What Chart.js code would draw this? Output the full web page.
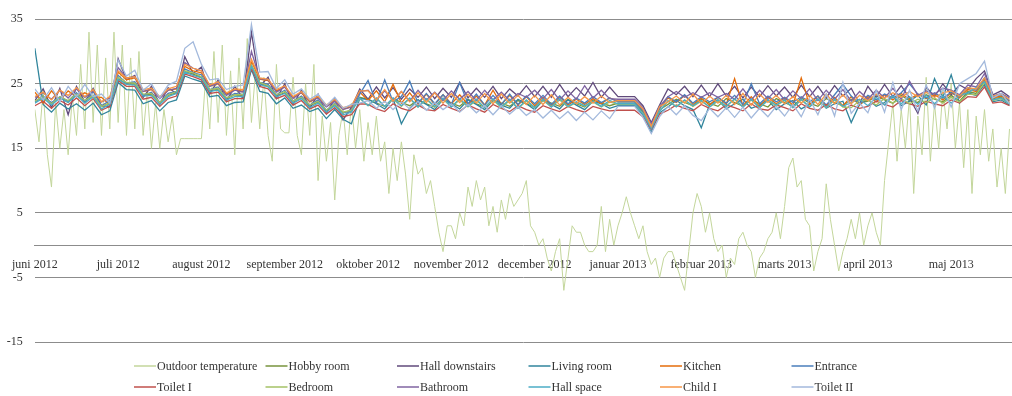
<!DOCTYPE html>
<html>
<head>
<meta charset="utf-8">
<script src="https://cdn.jsdelivr.net/npm/chart.js@4.4.1/dist/chart.umd.min.js"></script>
<style>
	html, body { margin: 0; padding: 0; background: #fff; }
	#wrap { width: 1012px; height: 396px; position: relative; }
</style>
</head>
<body>
<div id="wrap"><canvas id="chart"></canvas></div>
<script>
// --- Axis labels ---
const monthLabels = ["juni 2012", "juli 2012", "august 2012", "september 2012", "oktober 2012", "november 2012",
	"december 2012", "januar 2013", "februar 2013", "marts 2013", "april 2013", "maj 2013"];
const yTicks = [-15, -5, 5, 15, 25, 35];

// x positions are in "months since start"; outdoor is sampled every 0.05 month, rooms every 0.1 month
const OUTDOOR_STEP = 0.05;
const ROOM_STEP = 0.1;

const seriesNames = ["Outdoor temperature", "Hobby room", "Hall downstairs", "Living room", "Kitchen", "Entrance",
	"Toilet I", "Bedroom", "Bathroom", "Hall space", "Child I", "Toilet II"];
const seriesColors = ["#c3d69b", "#77933c", "#604a7b", "#31859c", "#e46c0a", "#4a7ebb",
	"#c0504d", "#a4c266", "#8064a2", "#4bacc6", "#f79646", "#a3b9dc"];

// --- Series values (°C) ---
const outdoorTemp = [
	21, 16, 24, 14, 9, 22, 15, 21, 14, 23, 17, 28, 18, 33, 19, 31, 17, 29, 18, 33,
	19, 31, 17, 29, 18, 30, 17, 24, 15, 22, 15, 21, 16, 20, 14, 16.5, 16.5, 16.5, 16.5, 16.5,
	16.5, 26, 18, 30, 19, 31, 17, 27, 14, 29, 18, 32, 19, 27, 18, 26, 17, 13, 28, 18,
	17.4, 17.4, 26, 17, 14, 25, 17, 28, 10, 20, 13, 19, 7, 17, 21, 14, 22, 15, 21, 13,
	19, 14, 20, 13, 16, 8, 15, 10, 16, 11, 4, 14, 11, 12, 8, 10, 6, 2, -1, 3,
	3, 1, 5, 3, 9, 6, 10, 7, 9, 3, 6, 2, 7, 4, 8, 6, 7, 8, 10, 3,
	2, 0, 1, -2, -4, -1, 1, -7, -2, 3, 2, 2, 0, -1, -1, 0, 6, -1, 4, 0,
	3, 5, 7.5, 5, 3, 1, 3, -1, -3, -2, -5, -2, -1, -1, -3, -5, -7, -1, 5, 8,
	6, 2, 5, 1, -1, 0, -5, -2, -3, 1, 2, 0, -1, -5, -2, -1, 1, 2, 5, 1,
	6, 12, 13.5, 9, 10, 4, 3, -4, -1, 1, 9.5, 4, 0, -4, -1, 1, 4, 1, 5, 0,
	3, 5, 2, 0, 10, 16, 22, 13, 21, 15, 23, 8, 20, 14, 26, 13, 22, 15, 24, 18,
	25, 15, 22, 12, 21, 8, 20, 14, 21, 13, 18, 9, 15, 8, 18
];
const hobbyRoom = [
	22.2, 23.1, 21.9, 22.9, 22.1, 23.4, 22.3, 23.2, 21.5, 22.0,
	25.8, 24.9, 25.0, 23.2, 23.4, 22.0, 23.2, 23.6, 26.9, 26.5,
	26.0, 24.0, 24.1, 22.7, 23.3, 23.1, 27.6, 25.1, 24.6, 23.1,
	23.6, 22.3, 22.8, 21.6, 22.2, 20.8, 21.8, 20.5, 20.9, 22.9,
	22.6, 22.0, 21.5, 22.7, 22.1, 21.6, 22.5, 21.9, 21.4, 22.6,
	22.0, 21.5, 22.6, 21.9, 21.4, 22.5, 22.0, 21.5, 22.4, 21.9,
	21.4, 22.5, 22.0, 21.5, 22.6, 21.9, 21.4, 22.5, 22.0, 21.6,
	22.0, 22.0, 22.0, 20.6, 18.4, 21.0, 21.8, 22.6, 22.1, 21.6,
	22.6, 22.0, 21.5, 22.7, 22.1, 21.5, 22.6, 21.9, 21.4, 22.7,
	22.1, 21.5, 22.8, 22.0, 21.5, 22.7, 22.1, 21.6, 22.6, 22.0,
	22.3, 23.1, 22.5, 22.0, 23.2, 22.4, 22.1, 23.3, 22.6, 22.2,
	23.2, 22.3, 23.8, 23.5, 25.4, 22.7, 22.9, 22.1
];
const hallDownstairs = [
	22.4, 24.2, 21.3, 24.3, 20.2, 24.6, 22.2, 24.3, 21.6, 21.4,
	28.9, 25.6, 26.3, 22.9, 24.6, 21.8, 24.4, 23.5, 29.2, 26.6,
	27.6, 23.4, 25.6, 22.3, 24.6, 22.7, 33.0, 24.6, 26.0, 22.7,
	25.0, 21.8, 24.0, 21.2, 23.4, 20.4, 22.7, 19.4, 21.3, 24.2,
	22.6, 24.5, 22.8, 24.4, 22.6, 24.2, 22.9, 24.5, 22.7, 24.3,
	22.9, 25.2, 22.8, 24.3, 22.9, 24.6, 22.7, 24.2, 23.1, 24.7,
	23.0, 24.6, 22.9, 24.9, 23.0, 24.4, 23.1, 25.2, 22.9, 24.5,
	23.0, 23.0, 23.0, 21.6, 19.0, 21.7, 24.2, 23.3, 24.6, 23.0,
	24.8, 23.0, 25.0, 23.1, 24.6, 22.8, 24.5, 23.0, 24.7, 23.1,
	24.5, 22.9, 24.8, 23.0, 24.6, 22.8, 24.7, 23.1, 24.3, 21.9,
	24.6, 22.9, 24.9, 23.0, 24.7, 22.8, 20.4, 24.5, 23.0, 25.0,
	23.3, 24.8, 24.1, 25.8, 27.0, 23.3, 23.9, 23.0
];
const livingRoom = [
	30.5, 21.8, 20.6, 22.0, 21.1, 21.9, 20.9, 22.0, 20.2, 20.8,
	25.2, 24.1, 24.0, 21.9, 22.4, 20.8, 22.1, 22.5, 26.2, 25.7,
	25.3, 23.0, 23.2, 21.6, 22.1, 22.2, 27.2, 23.8, 23.5, 21.9,
	22.8, 21.2, 21.7, 20.7, 21.2, 19.6, 21.0, 19.5, 18.8, 22.7,
	22.6, 21.9, 21.1, 22.7, 18.8, 21.2, 22.5, 21.8, 21.0, 22.6,
	21.9, 21.1, 22.5, 21.8, 21.0, 22.4, 21.7, 21.2, 22.6, 21.9,
	21.0, 22.4, 21.8, 21.1, 22.5, 21.7, 21.0, 22.3, 21.9, 21.2,
	21.6, 21.6, 21.6, 20.2, 17.5, 20.5, 21.4, 22.4, 21.6, 21.0,
	18.2, 21.8, 22.5, 21.1, 21.9, 22.6, 21.2, 21.7, 22.5, 21.0,
	21.9, 22.4, 21.1, 21.8, 22.6, 21.2, 21.9, 22.3, 19.0, 21.8,
	22.6, 21.5, 22.1, 23.1, 21.6, 22.3, 23.2, 21.7, 25.8, 22.9,
	26.4, 22.0, 23.6, 23.2, 24.9, 22.2, 22.5, 21.7
];
const kitchen = [
	23.7, 22.0, 23.9, 22.4, 23.9, 23.0, 23.6, 22.9, 22.9, 21.7,
	26.8, 25.6, 25.9, 23.8, 24.1, 22.8, 24.0, 24.2, 27.7, 27.0,
	26.7, 24.7, 25.0, 23.4, 24.1, 23.8, 28.5, 25.7, 25.5, 23.9,
	24.5, 22.9, 23.6, 22.2, 22.9, 21.5, 22.4, 21.1, 21.4, 23.7,
	22.4, 23.9, 22.2, 24.9, 22.0, 23.6, 21.9, 23.4, 21.8, 23.3,
	21.9, 23.3, 21.8, 23.1, 21.7, 24.0, 21.8, 23.2, 21.7, 23.0,
	21.6, 22.9, 21.5, 23.0, 21.7, 22.6, 21.8, 22.7, 21.9, 22.8,
	22.3, 22.3, 22.3, 21.0, 18.2, 21.3, 22.8, 22.1, 23.2, 21.8,
	22.8, 21.7, 22.9, 21.8, 25.8, 21.6, 23.0, 21.5, 22.9, 21.9,
	22.8, 21.7, 25.9, 21.8, 23.1, 21.5, 22.9, 21.6, 23.0, 21.7,
	23.0, 22.2, 23.3, 22.5, 23.5, 22.6, 23.4, 22.7, 23.3, 22.5,
	23.6, 22.8, 24.1, 23.8, 25.7, 22.8, 23.1, 22.3
];
const entrance = [
	22.2, 23.0, 22.1, 23.0, 22.3, 23.6, 22.1, 23.8, 21.6, 22.4,
	26.3, 25.1, 25.3, 23.2, 23.7, 22.1, 23.5, 23.8, 27.3, 26.7,
	26.4, 24.1, 24.5, 22.8, 23.5, 23.3, 27.9, 25.2, 24.9, 23.3,
	24.0, 22.3, 23.1, 21.7, 22.5, 20.9, 22.0, 20.5, 20.8, 23.4,
	25.5, 22.0, 25.6, 22.2, 23.0, 25.4, 22.0, 23.5, 21.9, 23.3,
	21.8, 25.2, 21.9, 23.4, 21.7, 23.2, 21.8, 23.4, 21.8, 23.1,
	21.9, 23.2, 21.8, 23.1, 21.9, 22.8, 22.0, 23.0, 22.1, 22.8,
	22.2, 22.2, 22.2, 20.8, 18.0, 21.2, 23.0, 22.2, 23.3, 22.0,
	23.0, 22.2, 22.9, 22.0, 23.2, 21.8, 25.0, 21.9, 23.1, 22.2,
	22.9, 22.1, 23.0, 22.2, 23.1, 21.7, 23.3, 24.9, 23.1, 21.9,
	23.2, 22.5, 23.4, 22.8, 23.6, 25.0, 23.4, 22.8, 23.6, 22.8,
	23.7, 23.0, 24.4, 24.0, 25.9, 23.0, 23.3, 22.4
];
const toiletOne = [
	21.6, 22.3, 21.2, 22.4, 21.7, 22.8, 21.6, 22.7, 20.9, 21.5,
	25.5, 24.6, 24.6, 22.6, 22.9, 21.5, 22.7, 23.1, 26.5, 26.1,
	25.6, 23.5, 23.7, 22.2, 22.7, 22.7, 27.4, 24.6, 24.2, 22.7,
	23.2, 21.7, 22.4, 21.1, 21.7, 20.3, 21.3, 19.9, 20.2, 21.9,
	21.8, 21.1, 20.7, 21.9, 21.2, 20.8, 21.7, 21.0, 20.8, 21.8,
	21.2, 20.7, 21.7, 21.1, 20.6, 21.8, 21.2, 20.7, 21.6, 21.0,
	20.6, 21.6, 21.1, 20.7, 21.5, 21.0, 20.6, 21.5, 21.1, 20.8,
	20.9, 20.9, 20.9, 19.9, 18.0, 20.3, 20.9, 21.7, 21.2, 20.8,
	21.8, 21.2, 20.8, 21.7, 21.3, 20.8, 21.9, 21.1, 20.9, 21.7,
	21.3, 20.8, 21.9, 21.2, 20.9, 21.8, 21.1, 20.8, 21.7, 21.2,
	21.5, 22.3, 21.8, 21.4, 22.4, 21.9, 21.5, 22.3, 21.9, 21.6,
	22.5, 22.0, 23.0, 22.9, 24.5, 22.0, 22.2, 21.6
];
const bedroom = [
	22.3, 23.0, 21.9, 23.0, 22.4, 23.4, 22.4, 23.2, 21.5, 22.0,
	26.0, 25.2, 25.1, 23.4, 23.5, 22.1, 23.3, 23.8, 27.0, 26.7,
	26.1, 24.1, 24.3, 22.8, 23.3, 23.3, 27.9, 25.2, 24.7, 23.3,
	23.8, 22.3, 22.9, 21.7, 22.3, 20.9, 21.9, 20.6, 20.9, 22.7,
	21.6, 22.7, 21.5, 22.6, 21.5, 22.7, 21.4, 22.6, 21.4, 22.6,
	21.4, 22.5, 21.4, 22.4, 21.3, 22.5, 21.3, 22.4, 21.2, 22.3,
	21.3, 22.4, 21.4, 22.5, 21.4, 22.1, 21.5, 22.2, 21.4, 22.2,
	21.8, 21.8, 21.8, 20.4, 18.3, 20.8, 22.3, 21.5, 22.4, 21.5,
	22.3, 21.4, 22.3, 21.5, 22.6, 21.4, 22.5, 21.3, 22.4, 21.6,
	22.4, 21.3, 22.5, 21.4, 22.6, 21.3, 22.5, 21.4, 21.3, 22.4,
	22.5, 21.7, 22.7, 22.0, 22.7, 21.9, 22.6, 22.1, 22.8, 22.0,
	22.9, 22.2, 23.4, 23.3, 25.2, 22.4, 22.7, 21.9
];
const bathroom = [
	22.9, 23.6, 22.6, 24.0, 22.8, 24.2, 22.9, 23.9, 22.2, 22.8,
	27.5, 25.9, 26.1, 23.8, 24.2, 22.7, 24.0, 24.3, 28.3, 27.4,
	27.0, 24.6, 25.1, 23.2, 24.0, 23.7, 30.0, 25.8, 25.6, 23.7,
	24.5, 22.7, 23.7, 22.3, 22.8, 21.4, 22.3, 21.0, 21.4, 23.8,
	24.0, 22.5, 23.9, 22.4, 23.8, 22.3, 24.0, 22.5, 23.7, 22.4,
	23.9, 22.6, 23.8, 22.4, 24.0, 22.5, 23.7, 22.4, 23.5, 22.9,
	24.0, 22.7, 24.1, 22.5, 23.9, 22.6, 24.7, 22.8, 24.0, 22.7,
	22.6, 22.6, 22.6, 21.3, 18.8, 21.5, 23.0, 23.8, 22.9, 23.6,
	22.9, 23.6, 22.9, 23.5, 22.6, 24.2, 22.5, 24.0, 22.7, 24.1,
	22.5, 23.9, 22.7, 24.2, 22.4, 24.0, 22.6, 24.1, 22.3, 23.8,
	22.6, 24.0, 22.8, 24.3, 22.6, 25.4, 23.2, 23.9, 23.4, 24.3,
	24.0, 23.3, 24.8, 24.5, 26.6, 23.1, 23.5, 22.8
];
const hallSpace = [
	22.0, 22.8, 21.7, 22.8, 22.1, 23.2, 22.0, 23.0, 21.1, 21.8,
	25.7, 24.9, 24.8, 23.1, 23.2, 21.8, 23.0, 23.5, 26.8, 26.3,
	25.9, 23.8, 24.0, 22.5, 23.0, 23.0, 27.7, 24.9, 24.5, 23.0,
	23.5, 22.0, 22.7, 21.3, 22.0, 20.6, 21.6, 20.2, 20.6, 22.8,
	21.6, 22.8, 21.5, 22.8, 21.6, 22.8, 21.4, 22.7, 21.5, 22.8,
	21.4, 22.7, 21.5, 22.6, 21.3, 22.7, 21.4, 22.6, 21.2, 22.5,
	21.3, 22.6, 21.4, 22.7, 21.5, 22.2, 21.6, 22.3, 21.5, 22.4,
	21.9, 21.9, 21.9, 20.3, 18.1, 20.7, 22.4, 21.4, 22.5, 21.6,
	22.4, 21.4, 22.5, 21.5, 22.7, 21.4, 22.6, 21.3, 22.5, 21.7,
	22.5, 21.3, 22.6, 21.4, 22.7, 21.3, 22.6, 21.5, 22.1, 22.6,
	21.6, 22.9, 21.7, 23.1, 21.9, 23.0, 21.8, 23.2, 21.9, 23.1,
	22.0, 23.2, 23.6, 24.4, 25.3, 22.5, 22.8, 21.9
];
const childOne = [
	23.0, 23.7, 22.5, 24.0, 23.2, 24.4, 23.0, 24.1, 22.2, 23.0,
	27.0, 25.9, 26.1, 24.1, 24.3, 23.0, 24.2, 24.6, 28.0, 27.4,
	27.0, 24.8, 25.3, 23.6, 24.2, 24.1, 28.8, 25.9, 25.7, 24.1,
	24.7, 23.0, 23.8, 22.4, 23.1, 21.7, 22.6, 21.3, 21.6, 23.9,
	23.9, 22.5, 24.1, 22.3, 23.8, 22.2, 23.6, 22.1, 23.6, 22.0,
	23.5, 22.1, 23.4, 22.0, 23.5, 21.9, 23.4, 22.0, 23.2, 21.8,
	23.2, 21.8, 23.3, 21.7, 22.9, 21.9, 23.0, 22.0, 23.1, 22.1,
	22.4, 22.4, 22.4, 21.1, 18.4, 21.5, 22.2, 23.1, 22.0, 23.4,
	21.9, 23.1, 22.0, 23.2, 21.8, 23.5, 21.7, 23.4, 22.1, 23.2,
	21.9, 23.0, 22.0, 23.2, 21.8, 23.4, 21.9, 23.3, 21.9, 23.2,
	22.4, 23.4, 22.8, 23.6, 22.9, 23.8, 23.0, 23.7, 22.9, 23.6,
	23.9, 23.1, 24.4, 24.2, 25.9, 23.1, 23.4, 22.6
];
const toiletTwo = [
	24.2, 22.5, 24.4, 22.2, 24.6, 23.0, 24.9, 23.0, 23.4, 22.0,
	28.7, 26.2, 27.1, 24.0, 25.0, 22.8, 24.8, 25.4, 30.5, 31.5,
	28.0, 25.6, 25.8, 24.1, 24.6, 24.8, 34.2, 26.8, 26.9, 24.3,
	25.6, 23.4, 24.2, 22.6, 23.4, 21.6, 22.9, 21.2, 21.8, 22.0,
	22.4, 21.2, 22.3, 21.0, 22.2, 21.1, 22.3, 20.9, 22.1, 21.0,
	21.9, 20.6, 21.8, 20.5, 21.6, 20.2, 21.6, 20.3, 21.4, 20.1,
	21.0, 19.7, 20.9, 19.6, 20.7, 19.3, 20.6, 19.4, 20.8, 19.6,
	21.5, 21.5, 21.5, 19.8, 17.3, 19.9, 21.5, 20.2, 21.6, 20.1,
	19.3, 21.2, 19.9, 21.3, 19.8, 21.4, 19.7, 21.2, 19.9, 21.5,
	20.0, 21.8, 19.9, 22.6, 20.2, 23.4, 20.0, 25.2, 20.4, 22.0,
	20.5, 24.0, 20.6, 25.2, 21.0, 24.0, 20.8, 24.8, 21.2, 24.3,
	21.4, 25.0, 25.8, 26.6, 28.5, 22.8, 23.5, 21.9
];

const seriesValues = [outdoorTemp, hobbyRoom, hallDownstairs, livingRoom, kitchen, entrance,
	toiletOne, bedroom, bathroom, hallSpace, childOne, toiletTwo];

// --- Legend in a fixed 6 x 2 grid, like the original ---
const gridLegend = {
	id: "gridLegend",
	afterDraw(chart) {
		const ctx = chart.ctx;
		ctx.save();
		ctx.font = '12px "Liberation Serif"';
		ctx.textBaseline = "middle";
		ctx.textAlign = "left";
		seriesNames.forEach((name, i) => {
			const col = i % 6;
			const row = Math.floor(i / 6);
			const x = 134 + col * 131.5;
			const y = 366 + row * 21;
			ctx.strokeStyle = seriesColors[i];
			ctx.lineWidth = 1.5;
			ctx.beginPath();
			ctx.moveTo(x, y);
			ctx.lineTo(x + 22, y);
			ctx.stroke();
			ctx.fillStyle = "#333333";
			ctx.fillText(name, x + 23, y + 1);
		});
		ctx.restore();
	},
};

const datasets = seriesValues.map((values, idx) => {
	const step = idx === 0 ? OUTDOOR_STEP : ROOM_STEP;
	return {
		label: seriesNames[idx],
		data: values.map((v, i) => ({ x: i * step, y: v })),
		borderColor: seriesColors[idx],
		backgroundColor: seriesColors[idx],
		borderWidth: idx === 0 ? 1 : 1.3,
		pointRadius: 0,
		tension: 0,
		fill: false,
		order: seriesValues.length - 1 - idx, // later series drawn on top
	};
});

const ctx = document.getElementById("chart").getContext("2d");
new Chart(ctx, {
	type: "line",
	data: { datasets },
	options: {
		responsive: true,
		maintainAspectRatio: false,
		animation: false,
		layout: { padding: { top: 15, bottom: 54, left: 0, right: 0 } },
		plugins: {
			legend: { display: false },
			tooltip: { enabled: false },
		},
		scales: {
			x: {
				type: "linear",
				position: { y: 0 },
				min: 0,
				max: 11.73,
				grid: { display: false, drawTicks: false },
				border: { display: true, color: "#8c8c8c", width: 1 },
				afterBuildTicks: (scale) => {
					scale.ticks = monthLabels.map((_, i) => ({ value: i }));
				},
				ticks: {
					autoSkip: false,
					maxRotation: 0,
					padding: 12,
					color: "#333333",
					font: { family: "Liberation Serif", size: 12 },
					callback: (value) => monthLabels[value],
				},
			},
			y: {
				min: -15,
				max: 35,
				afterBuildTicks: (scale) => {
					scale.ticks = yTicks.map((v) => ({ value: v }));
				},
				afterFit: (scale) => {
					scale.width = 34;
				},
				grid: { color: "#8c8c8c", lineWidth: 1, drawTicks: false },
				border: { display: false },
				ticks: {
					padding: 12,
					color: "#333333",
					font: { family: "Liberation Serif", size: 12 },
				},
			},
		},
	},
	plugins: [gridLegend],
});
</script>
</body>
</html>
